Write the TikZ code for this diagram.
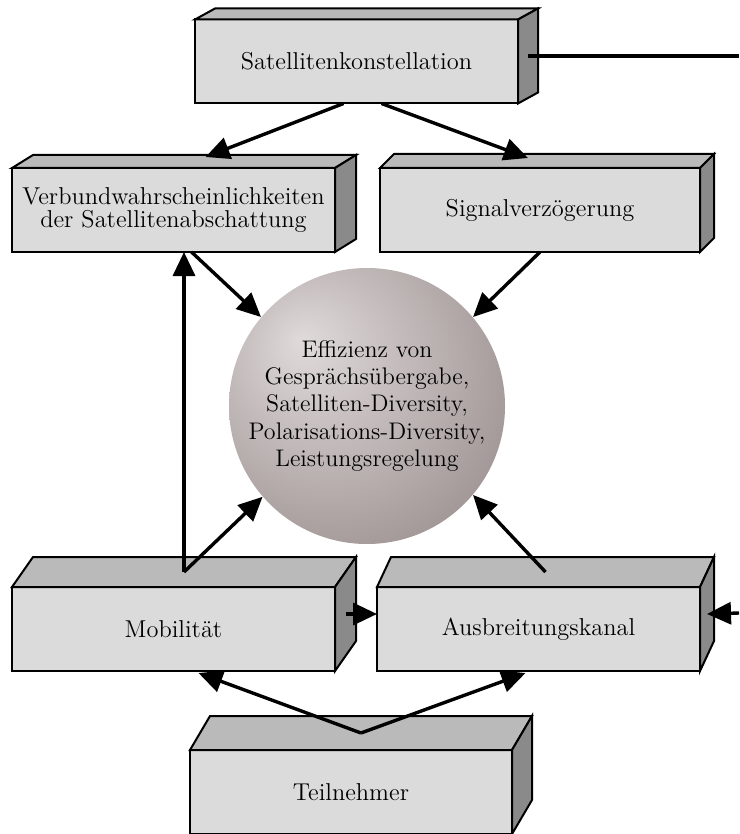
\documentclass[tikz,border=0pt]{standalone}
\usepackage{amsmath}
\usetikzlibrary{arrows.meta, positioning}

\definecolor{frontgray}{gray}{0.86}
\definecolor{topgray}{gray}{0.73}
\definecolor{sidegray}{gray}{0.54}
\definecolor{balllight}{RGB}{224,218,218}
\definecolor{balldark}{RGB}{146,134,134}
\pgfdeclareradialshading{ballshade}{\pgfpoint{-12bp}{12bp}}{color(0bp)=(balllight); color(42bp)=(balldark); color(60bp)=(balldark)}

% top and right face of a block: node, depth x, depth y
\newcommand{\boxdepth}[3]{%
	\draw[line width=1pt, fill=topgray] (#1.north west) -- ++(#2,-#3) -- ([shift={(#2,-#3)}]#1.north east) -- (#1.north east) -- cycle;
	\draw[line width=1pt, fill=sidegray] (#1.north east) -- ++(#2,-#3) -- ([shift={(#2,-#3)}]#1.south east) -- (#1.south east) -- cycle;
}

\begin{document}
\begin{tikzpicture}[x=0.5pt, y=-0.5pt,
		block/.style={draw, line width=1pt, fill=frontgray, minimum width=161.5pt, minimum height=42pt, inner sep=0pt, outer sep=0pt, align=center, font=\fontsize{12.2}{11.5}\selectfont},
		flow/.style={line width=1.7pt, -{Triangle[length=12pt,width=11pt]}}]
			\useasboundingbox (0,0) rectangle (739,834);
			\node (sat)[block] at (356.5,61.5) {Satellitenkonstellation};
			\node (verb)[block] at (173.5,210) {Verbundwahrscheinlichkeiten\\der Satellitenabschattung};
			\node (sig)[block, minimum width=160pt] at (540,210) {Signalverzögerung};
			\node (mob)[block] at (173.5,629) {Mobilität};
			\node (aus)[block] at (538.5,629) {Ausbreitungskanal};
			\node (teil)[block, minimum width=161pt] at (351,792) {Teilnehmer};
			\boxdepth{sat}{20}{11}
			\boxdepth{verb}{21}{13}
			\boxdepth{sig}{14}{14}
			\boxdepth{mob}{21}{30}
			\boxdepth{aus}{14}{30}
			\boxdepth{teil}{20}{34}
			\node (ball)[circle, shading=ballshade, minimum size=138pt, inner sep=-2pt, align=center, font=\fontsize{12}{13.6}\selectfont] at (367,406) {Effizienz von\\Gesprächsübergabe,\\Satelliten-Diversity,\\Polarisations-Diversity,\\Leistungsregelung};
			\coordinate (satout) at (739,56);
			\coordinate (ausin) at (739,613);
			\coordinate (mobtop) at ([shift={(10.5,-15)}]mob.north);
			\coordinate (teiltop) at ([shift={(10,-17)}]teil.north);
			\draw[line width=1.7pt] ([shift={(10,-5.5)}]sat.east) -- (satout);
			\draw[flow] ([shift={(-13,0)}]sat.south) -- ([shift={(32,-11)}]verb.north);
			\draw[flow] ([shift={(25,0)}]sat.south) -- ([shift={(-12,-10)}]sig.north);
			\draw[flow] ([shift={(18,0)}]verb.south) -- (ball.140);
			\draw[flow] (sig.south) -- (ball.40);
			\draw[flow] (mobtop) -- (mobtop |- verb.south);
			\draw[flow] (mobtop) -- (ball.221);
			\draw[flow] ([shift={(7,-15)}]aus.north) -- (ball.320);
			\draw[flow] ([shift={(10.5,-15)}]mob.east) -- ([shift={(0,-15)}]aus.west);
			\draw[flow] (ausin) -- ([shift={(7,-15)}]aus.east);
			\draw[flow] (teiltop) -- ([shift={(25,2)}]mob.south);
			\draw[flow] (teiltop) -- ([shift={(-13,2)}]aus.south);
		\end{tikzpicture}
\end{document}
